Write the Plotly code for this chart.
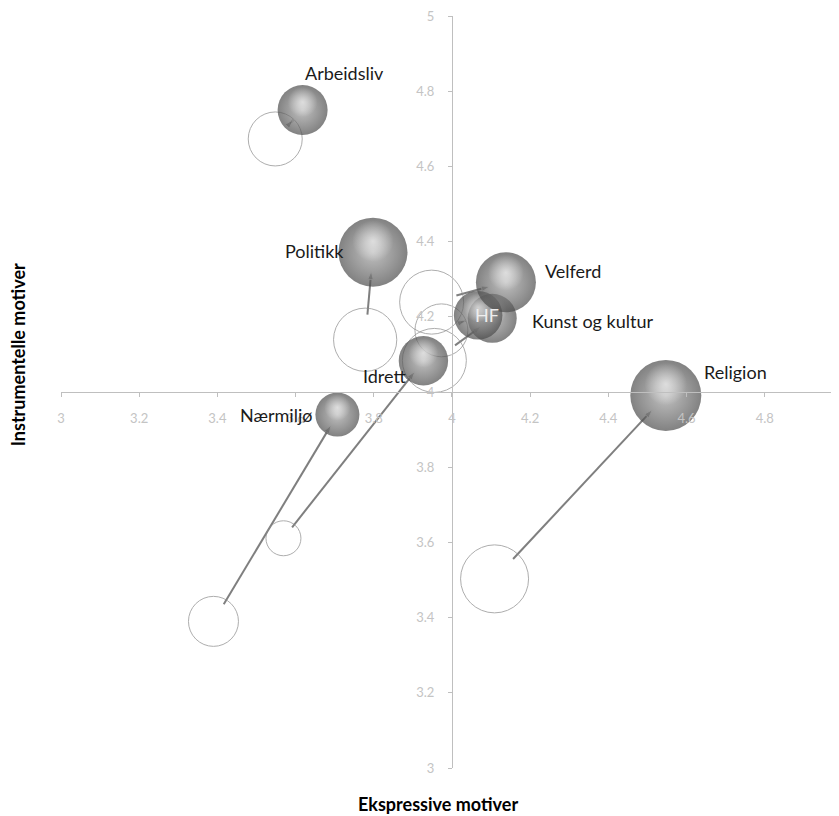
import math
import plotly.graph_objects as go

# ---- data ----
categories = ["Arbeidsliv", "Politikk", "Kunst og kultur", "HF", "Velferd",
              "Idrett", "Nærmiljø", "Religion"]
# current position (filled spheres)
expr_now = [3.618, 3.798, 4.103, 4.067, 4.138, 3.927, 3.707, 4.547]
instr_now = [4.750, 4.372, 4.196, 4.204, 4.292, 4.083, 3.940, 3.991]
size_now = [6.25, 11.9, 6.0, 5.9, 9.0, 6.1, 4.84, 12.6]
# earlier position (open circles)
expr_before = [3.548, 3.778, 3.955, 3.973, 3.948, 3.569, 3.390, 4.109]
instr_before = [4.673, 4.139, 4.084, 4.164, 4.239, 3.611, 3.390, 3.503]
size_before = [7.29, 10.0, 10.24, 7.0, 10.24, 3.06, 6.25, 11.56]

tick_vals = [3, 3.2, 3.4, 3.6, 3.8, 4, 4.2, 4.4, 4.6, 4.8, 5]
tick_text = ["3", "3.2", "3.4", "3.6", "3.8", "4", "4.2", "4.4", "4.6", "4.8", "5"]

x_title = "Ekspressive motiver"
y_title = "Instrumentelle motiver"

# ---- layout constants ----
W, H = 831, 808
ML, MR, MT, MB = 53, 0, 6, 48
XR = [3, 4.99]
YR = [3, 5]
kx = (W - ML - MR) / (XR[1] - XR[0])   # px per unit
ky = (H - MT - MB) / (YR[1] - YR[0])
SIZEREF = 1 / 200.0                    # area mode: diameter = sqrt(2 v / sizeref)


def radius(v):
    return math.sqrt(2 * v / SIZEREF) / 2


FONT = "Lato, 'Open Sans', sans-serif"

# label offsets (pixels, relative to the filled bubble)
label_dx = [42, -58, 100, 9, 67, -39, -61, 70]
label_dy = [37, 1, -3, 0, 11, -15, 0, 23]
label_col = ["#1a1a1a"] * 8
label_col[3] = "#eeeeee"

fig = go.Figure()

# arrows from earlier to current position (drawn first, under bubbles)
for i in range(len(categories)):
    x0, y0 = expr_before[i], instr_before[i]
    x1, y1 = expr_now[i], instr_now[i]
    dxp, dyp = (x1 - x0) * kx, (y1 - y0) * ky
    L = math.hypot(dxp, dyp)
    r0, r1 = radius(size_before[i]), radius(size_now[i])
    t0 = 0.8 * r0 / L
    t1 = 1 - 0.55 * r1 / L
    if t1 <= t0:
        continue
    xs = [x0 + (x1 - x0) * t0, x0 + (x1 - x0) * t1]
    ys = [y0 + (y1 - y0) * t0, y0 + (y1 - y0) * t1]
    fig.add_trace(go.Scatter(
        x=xs, y=ys, mode="lines+markers",
        line=dict(color="#7f7f7f", width=2),
        marker=dict(symbol=["circle", "arrow"], size=[0, 9],
                    color="#7f7f7f", angleref="previous"),
        hoverinfo="skip", showlegend=False))

# open circles (earlier)
fig.add_trace(go.Scatter(
    x=expr_before, y=instr_before, mode="markers",
    marker=dict(size=size_before, sizemode="area", sizeref=SIZEREF,
                color="rgba(0,0,0,0)",
                line=dict(color="#8c8c8c", width=1)),
    text=categories, hoverinfo="text", showlegend=False))

# filled spheres (current) – base + soft highlight per category so overlaps stack correctly
# (for radial gradients plotly uses gradient.color at the centre, marker.color at the rim)
for i in range(len(categories)):
    r = radius(size_now[i])
    fig.add_trace(go.Scatter(
        x=[expr_now[i]], y=[instr_now[i]], mode="markers",
        marker=dict(size=[size_now[i]], sizemode="area", sizeref=SIZEREF,
                    color="#4c4c4c",
                    gradient=dict(type="radial", color="#a6a6a6"),
                    line=dict(width=0)),
        text=[categories[i]], hoverinfo="text", showlegend=False))
    fig.add_trace(go.Scatter(
        x=[expr_now[i]], y=[instr_now[i] + 0.32 * r / ky], mode="markers",
        marker=dict(size=[size_now[i] * 0.36], sizemode="area", sizeref=SIZEREF,
                    color="rgba(255,255,255,0)",
                    gradient=dict(type="radial", color="rgba(255,255,255,0.85)"),
                    line=dict(width=0)),
        hoverinfo="skip", showlegend=False))

# labels
for i, c in enumerate(categories):
    fig.add_annotation(
        x=expr_now[i], y=instr_now[i], xref="x", yref="y",
        text=c, showarrow=False, xanchor="center", yanchor="middle",
        xshift=label_dx[i], yshift=label_dy[i],
        font=dict(family=FONT, size=18, color=label_col[i]))

# axis titles
fig.add_annotation(x=0.484, y=-0.048, xref="paper", yref="paper",
                   text="<b>" + x_title + "</b>", showarrow=False,
                   xanchor="center", yanchor="middle",
                   font=dict(family=FONT, size=18, color="#000000"))
fig.add_annotation(x=-0.055, y=0.549, xref="paper", yref="paper",
                   text="<b>" + y_title + "</b>", showarrow=False, textangle=-90,
                   xanchor="center", yanchor="middle",
                   font=dict(family=FONT, size=18, color="#000000"))

axis_common = dict(
    showgrid=False, zeroline=False, showline=True, linecolor="#bfbfbf",
    linewidth=1, ticks="outside", ticklen=4, tickcolor="#bfbfbf",
    tickvals=tick_vals, ticktext=tick_text,
    tickfont=dict(family=FONT, size=13, color="#c4c4c4"),
    ticklabeloverflow="allow",
    anchor="free", fixedrange=True)

fig.update_layout(
    width=W, height=H,
    margin=dict(l=ML, r=MR, t=MT, b=MB),
    paper_bgcolor="white", plot_bgcolor="white",
    xaxis=dict(range=XR, ticklabelstandoff=10,
               position=(4 - YR[0]) / (YR[1] - YR[0]), **axis_common),
    yaxis=dict(range=YR, ticklabelstandoff=11,
               position=(4 - XR[0]) / (XR[1] - XR[0]), **axis_common),
    showlegend=False,
)

fig.write_html("out.html")
